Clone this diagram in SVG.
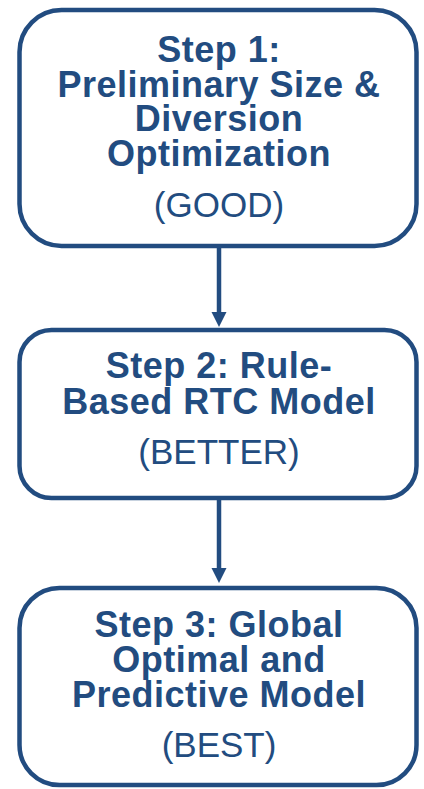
<svg xmlns="http://www.w3.org/2000/svg" width="424" height="789" viewBox="0 0 424 789">
<style>
.box{fill:#fff;stroke:#224c80;stroke-width:4.5}
.t{font-family:"Liberation Sans",Arial,sans-serif;fill:#224c80;text-anchor:middle}
.b{font-weight:bold;font-size:36px;letter-spacing:0.5px}
.r{font-size:35px}
.c{stroke:#224c80;stroke-width:4.5;fill:none}
</style>
<defs>
<marker id="ah" markerWidth="16" markerHeight="16" refX="0" refY="0" viewBox="-8 -8 16 16" markerUnits="userSpaceOnUse" orient="auto">
<path d="M-7,-7.5 L8,0 L-7,7.5 Z" fill="#224c80"/>
</marker>
</defs>
<rect width="424" height="789" fill="#fff"/>
<g id="connectors">
<line class="c" x1="219" y1="247" x2="219" y2="319" marker-end="url(#ah)"/>
<line class="c" x1="219" y1="500" x2="219" y2="575" marker-end="url(#ah)"/>
</g>
<g id="step1">
<rect class="box" x="19.5" y="10" width="397" height="236" rx="42"/>
<text class="t b"><tspan x="219" y="62">Step 1:</tspan><tspan x="219" y="96.5">Preliminary Size &amp;</tspan><tspan x="219" y="131">Diversion</tspan><tspan x="219" y="165.5">Optimization</tspan></text>
<text class="t r" x="219" y="216.5">(GOOD)</text>
</g>
<g id="step2">
<rect class="box" x="19.5" y="330" width="397" height="168" rx="32"/>
<text class="t b"><tspan x="219" y="378">Step 2: Rule-</tspan><tspan x="219" y="414">Based RTC Model</tspan></text>
<text class="t r" x="219" y="464">(BETTER)</text>
</g>
<g id="step3">
<rect class="box" x="19.5" y="588" width="397" height="197" rx="40"/>
<text class="t b"><tspan x="219" y="637">Step 3: Global</tspan><tspan x="219" y="672">Optimal and</tspan><tspan x="219" y="707">Predictive Model</tspan></text>
<text class="t r" x="219" y="757">(BEST)</text>
</g>
</svg>
